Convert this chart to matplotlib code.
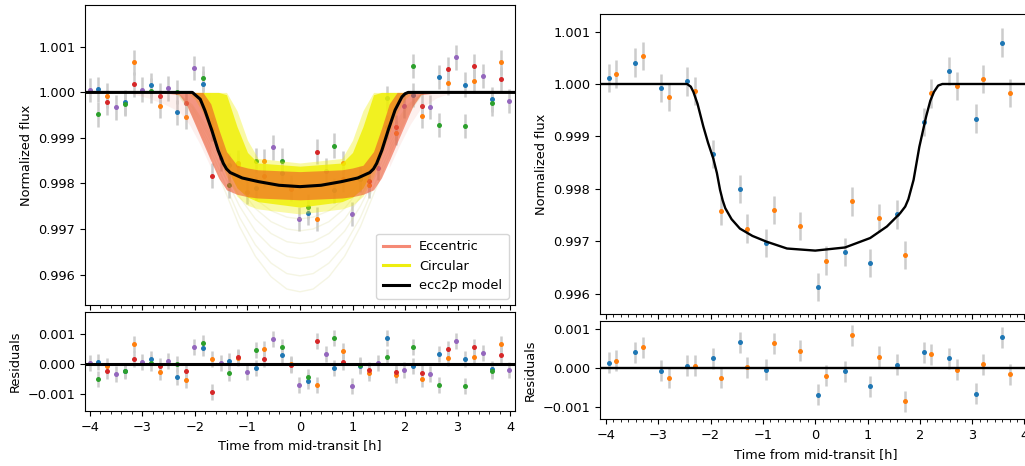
import numpy as np
import matplotlib
matplotlib.use('Agg')
import matplotlib.pyplot as plt
from matplotlib.ticker import MultipleLocator, FuncFormatter
from matplotlib.lines import Line2D

plt.rcParams['font.family'] = ['DejaVu Sans']
plt.rcParams['font.size'] = 9.3

# ---------------- LEFT PANEL DATA (5 transits) ----------------
t_pu = [-4.00, -3.50, -3.00, -2.51, -2.01, -1.51, -1.01, -0.51, -0.01, 0.49, 0.99, 1.49, 1.99, 2.48, 2.98, 3.49, 3.99]
f_pu = [1.00005, 0.99967, 1.00006, 1.00009, 1.00054, 0.99855, 0.99782, 0.99879, 0.99722, 0.99828, 0.99733, 0.99835, 0.99970, 0.99968, 1.00077, 1.00036, 0.99981]
r_pu = [0.00004, -0.00033, 0.00006, 0.00009, 0.00057, 0.00002, -0.00026, 0.00085, -0.00070, 0.00034, -0.00076, 0.00003, -0.00021, -0.00033, 0.00077, 0.00036, -0.00019]

t_bg = [-3.84, -3.34, -2.84, -2.34, -1.85, -1.35, -0.84, -0.34, 0.15, 0.65, 1.15, 1.65, 2.15, 2.65, 3.15, 3.65]
f_bl = [1.00007, 0.99978, 1.00016, 0.99956, 1.00019, 0.99840, 0.99790, 0.99824, 0.99735, 0.99785, 0.99809, 0.99987, 0.99994, 1.00034, 1.00017, 0.99985]
r_bl = [0.00007, -0.00022, 0.00016, -0.00044, 0.00054, 0.00011, -0.00014, 0.00031, -0.00057, -0.00014, -0.00006, 0.00089, -0.00006, 0.00035, 0.00017, -0.00016]
f_gr = [0.99952, 0.99975, 1.00004, 1.00001, 1.00031, 0.99796, 0.99850, 0.99850, 0.99749, 0.99883, 0.99812, 0.99924, 1.00058, 0.99928, 0.99926, 0.99976]
r_gr = [-0.00050, -0.00025, 0.00004, 0.00000, 0.00071, -0.00032, 0.00047, 0.00058, -0.00043, 0.00087, -0.00003, 0.00025, 0.00059, -0.00072, -0.00075, -0.00023]

t_or = [-3.68, -3.17, -2.67, -2.18, -1.68, -1.18, -0.68, -0.18, 0.32, 0.82, 1.32, 1.82, 2.32, 2.82, 3.32, 3.82]
f_or = [0.99993, 1.00066, 0.99971, 0.99947, 0.99920, 0.99840, 0.99849, 0.99792, 0.99722, 0.99845, 0.99796, 0.99911, 0.99949, 1.00021, 1.00025, 1.00066]
r_or = [-0.00008, 0.00068, -0.00028, -0.00053, 0.00016, 0.00019, 0.00050, 0.00000, -0.00072, 0.00044, -0.00030, -0.00038, -0.00051, 0.00021, 0.00025, 0.00068]
f_rd = [0.99978, 1.00018, 0.99993, 0.99976, 0.99817, 0.99846, 0.99816, 0.99788, 0.99870, 0.99809, 0.99805, 0.99923, 0.99971, 1.00051, 1.00058, 1.00029]
r_rd = [-0.00024, 0.00017, -0.00007, -0.00023, -0.00096, 0.00025, 0.00017, -0.00004, 0.00079, 0.00008, -0.00021, -0.00028, -0.00030, 0.00051, 0.00059, 0.00031]

err_left = 0.00027

# ecc2p model (black)
m_t = [-4.2, -2.05, -2.00, -1.90, -1.81, -1.68, -1.56, -1.46, -1.40, -1.33, -1.10, -0.79, -0.40, 0.00,
       0.40, 0.79, 1.10, 1.33, 1.40, 1.46, 1.56, 1.68, 1.81, 1.94, 2.00, 2.06, 4.2]
m_f = [1.0, 1.0, 0.99995, 0.99985, 0.99960, 0.99917, 0.99873, 0.99844, 0.99832, 0.99824, 0.99812, 0.99804, 0.99796, 0.99793,
       0.99796, 0.99804, 0.99812, 0.99824, 0.99832, 0.99844, 0.99873, 0.99917, 0.99961, 0.99990, 0.99997, 1.0, 1.0]

# Posterior model envelopes
band_t = [-2.70, -2.30, -2.15, -2.00, -1.85, -1.70, -1.55, -1.40, -1.20, -1.00, -0.80, 0.00,
          0.80, 1.00, 1.20, 1.40, 1.55, 1.70, 1.85, 2.00, 2.15, 2.30, 2.70]
ecc_hi = [1.0, 1.0, 1.0, 1.0, 1.0, 0.99975, 0.99920, 0.99870, 0.99840, 0.99834, 0.99830, 0.99826,
          0.99830, 0.99834, 0.99840, 0.99870, 0.99920, 0.99975, 1.0, 1.0, 1.0, 1.0, 1.0]
ecc_lo = [1.0, 0.99995, 0.99970, 0.99930, 0.99890, 0.99850, 0.99812, 0.99786, 0.99776, 0.99771, 0.99768, 0.99764,
          0.99768, 0.99771, 0.99776, 0.99786, 0.99812, 0.99850, 0.99890, 0.99930, 0.99970, 0.99995, 1.0]
cir_hi = [1.0, 1.0, 1.0, 1.0, 1.0, 1.0, 1.0, 0.99995, 0.99925, 0.99868, 0.99845, 0.99838,
          0.99845, 0.99868, 0.99925, 0.99995, 1.0, 1.0, 1.0, 1.0, 1.0, 1.0, 1.0]
cir_lo = [1.0, 1.0, 1.0, 1.0, 0.99975, 0.99930, 0.99880, 0.99835, 0.99790, 0.99770, 0.99760, 0.99748,
          0.99760, 0.99770, 0.99790, 0.99835, 0.99880, 0.99930, 0.99975, 1.0, 1.0, 1.0, 1.0]
# sparse outer circular curves
cir_out_hi = [1.0, 1.0, 1.0, 1.0, 1.0, 1.0, 1.0, 1.0, 0.99960, 0.99895, 0.99855, 0.99845,
              0.99855, 0.99895, 0.99960, 1.0, 1.0, 1.0, 1.0, 1.0, 1.0, 1.0, 1.0]
cir_out_lo = [1.0, 1.0, 1.0, 0.99985, 0.99955, 0.99910, 0.99860, 0.99815, 0.99772, 0.99752, 0.99744, 0.99733,
              0.99744, 0.99752, 0.99772, 0.99815, 0.99860, 0.99910, 0.99955, 0.99985, 1.0, 1.0, 1.0]
# faint outer eccentric curves (early ingress / late egress)
ecc_in_t = [-3.30, -2.90, -2.60, -2.30, -2.10, -1.90, -1.70]
ecc_in_f = [1.0, 0.99988, 0.99975, 0.99958, 0.99928, 0.99885, 0.99835]
ecc_eg_t = [1.70, 1.90, 2.10, 2.30, 2.60, 2.90]
ecc_eg_f = [0.99835, 0.99885, 0.99930, 0.99965, 0.99988, 1.0]

# faint deep circular curves (half profile, mirrored)
arc_t = [-2.35, -2.05, -1.75, -1.45, -1.15, -0.85, -0.55, -0.25, 0.0]
arc_rows = [
    [1.0, 0.99950, 0.99875, 0.99790, 0.99705, 0.99640, 0.99595, 0.99568, 0.99562],
    [1.0, 0.99955, 0.99885, 0.99805, 0.99725, 0.99665, 0.99625, 0.99602, 0.99597],
    [1.0, 0.99960, 0.99895, 0.99820, 0.99750, 0.99695, 0.99660, 0.99640, 0.99635],
    [1.0, 0.99965, 0.99905, 0.99835, 0.99770, 0.99722, 0.99690, 0.99672, 0.99668],
    [1.0, 0.99968, 0.99912, 0.99848, 0.99790, 0.99745, 0.99716, 0.99700, 0.99696],
    [1.0, 0.99972, 0.99920, 0.99860, 0.99805, 0.99766, 0.99740, 0.99726, 0.99722],
]

# ---------------- RIGHT PANEL DATA (2 transits) ----------------
tb_R = [-3.95, -3.45, -2.95, -2.45, -1.95, -1.44, -0.94, 0.06, 0.56, 1.05, 1.56, 2.07, 2.56, 3.07, 3.57]
fb_R = [1.00012, 1.00041, 0.99993, 1.00005, 0.99867, 0.99800, 0.99697, 0.99613, 0.99680, 0.99659, 0.99751, 0.99928, 1.00025, 0.99934, 1.00079]
rb_R = [0.00014, 0.00041, -0.00007, 0.00006, 0.00026, 0.00067, -0.00004, -0.00068, -0.00008, -0.00046, 0.00009, 0.00041, 0.00026, -0.00065, 0.00079]
to_R = [-3.80, -3.30, -2.80, -2.30, -1.80, -1.30, -0.79, -0.30, 0.20, 0.71, 1.21, 1.72, 2.21, 2.71, 3.21, 3.72]
fo_R = [1.00019, 1.00053, 0.99975, 0.99987, 0.99758, 0.99724, 0.99760, 0.99729, 0.99663, 0.99776, 0.99744, 0.99674, 0.99982, 0.99996, 1.00009, 0.99983]
ro_R = [0.00019, 0.00054, -0.00024, 0.00006, -0.00024, 0.00003, 0.00064, 0.00045, -0.00019, 0.00085, 0.00030, -0.00085, 0.00036, -0.00004, 0.00010, -0.00016]
err_right = 0.00027

mR_t = [-4.3, -2.45, -2.38, -2.33, -2.25, -2.14, -2.05, -1.95, -1.88, -1.82, -1.77, -1.72, -1.60, -1.44, -1.20, -0.93,
        -0.54, 0.00, 0.57, 1.05, 1.37, 1.62, 1.72, 1.78, 1.88, 1.99, 2.12, 2.20, 2.27, 2.35, 2.43, 4.3]
mR_f = [1.0, 1.0, 0.99995, 0.99985, 0.99962, 0.99919, 0.99888, 0.99858, 0.99830, 0.99798, 0.99778, 0.99763, 0.99742, 0.99724, 0.99710, 0.99699,
        0.99686, 0.99682, 0.99688, 0.99706, 0.99728, 0.99753, 0.99766, 0.99780, 0.99817, 0.99880, 0.99938, 0.99968, 0.99985, 0.99997, 1.0, 1.0]

# ---------------- FIGURE ----------------
fig = plt.figure(figsize=(10.25, 4.66), dpi=100)
axL = fig.add_axes([0.08293, 0.34549, 0.41951, 0.64378])
axLr = fig.add_axes([0.08293, 0.11803, 0.41951, 0.21245])
axR = fig.add_axes([0.58537, 0.32618, 0.42049, 0.64378])
axRr = fig.add_axes([0.58537, 0.10021, 0.42049, 0.21159])

ecol = '#cccccc'
ms = 3.6

def pts(ax, t, v, c, err):
    ax.errorbar(t, v, yerr=err, fmt='none', ecolor=ecol, elinewidth=1.8, zorder=1)
    ax.plot(t, v, 'o', ms=ms, color=c, mec='none', zorder=2)

left_sets = [
    (t_bg, f_bl, r_bl, 'C0'),
    (t_or, f_or, r_or, 'C1'),
    (t_bg, f_gr, r_gr, 'C2'),
    (t_or, f_rd, r_rd, 'C3'),
    (t_pu, f_pu, r_pu, 'C4'),
]
for t, f, r, c in left_sets:
    pts(axL, t, f, c, err_left)
    pts(axLr, t, r, c, err_left)

# model posterior curves
ecc_c = '#ee4a28'
cir_c = '#f0f000'
for row in arc_rows:
    full_t = arc_t + [-x for x in arc_t[::-1][1:]]
    full_f = row + row[::-1][1:]
    axL.plot(full_t, full_f, color='#d8d890', alpha=0.25, lw=1.0, zorder=3)
axL.fill_between(ecc_in_t, ecc_in_f, 1.0, color='#f09080', alpha=0.13, lw=0, zorder=3)
axL.fill_between(ecc_eg_t, ecc_eg_f, 1.0, color='#f09080', alpha=0.13, lw=0, zorder=3)
axL.fill_between(band_t, cir_out_lo, cir_out_hi, color=cir_c, alpha=0.35, lw=0, zorder=3)
axL.fill_between(band_t, cir_lo, cir_hi, color=cir_c, alpha=0.8, lw=0, zorder=3)
axL.fill_between(band_t, ecc_lo, ecc_hi, color=ecc_c, alpha=0.55, lw=0, zorder=3)
axL.plot(m_t, m_f, color='k', lw=2.2, zorder=5)
axLr.axhline(0, color='k', lw=2.2, zorder=5)

handles = [Line2D([], [], color='#f58a76', lw=2.2),
           Line2D([], [], color='#eeee10', lw=2.2),
           Line2D([], [], color='k', lw=2.2)]
axL.legend(handles, ['Eccentric', 'Circular', 'ecc2p model'], loc='lower right',
           handlelength=2.0, borderpad=0.5, labelspacing=0.5)

pts(axR, tb_R, fb_R, 'C0', err_right)
pts(axR, to_R, fo_R, 'C1', err_right)
pts(axRr, tb_R, rb_R, 'C0', err_right)
pts(axRr, to_R, ro_R, 'C1', err_right)
axR.plot(mR_t, mR_f, color='k', lw=1.7, zorder=5)
axRr.axhline(0, color='k', lw=1.7, zorder=5)

def fmt3(x, pos):
    s = '%.3f' % x
    return s.replace('-', '\u2212')

for ax in (axL, axLr):
    ax.set_xlim(-4.095, 4.095)
for ax in (axR, axRr):
    ax.set_xlim(-4.115, 4.125)
for ax in (axL, axLr, axR, axRr):
    ax.xaxis.set_major_locator(MultipleLocator(1))
    ax.yaxis.set_major_formatter(FuncFormatter(fmt3))
    ax.yaxis.set_major_locator(MultipleLocator(0.001))
axL.xaxis.set_minor_locator(MultipleLocator(0.2))
axLr.xaxis.set_minor_locator(MultipleLocator(0.2))
axR.xaxis.set_minor_locator(MultipleLocator(1/7))
axRr.xaxis.set_minor_locator(MultipleLocator(1/7))

axL.set_ylim(0.99533, 1.00192)
axLr.set_ylim(-0.00159, 0.00176)
axR.set_ylim(0.99561, 1.001336)
axRr.set_ylim(-0.00131, 0.00122)

for ax in (axL, axR):
    ax.tick_params(axis='x', labelbottom=False)
    ax.set_ylabel('Normalized flux')
for ax in (axLr, axRr):
    ax.set_ylabel('Residuals')
    ax.set_xlabel('Time from mid-transit [h]')

fig.savefig('out.png', dpi=100)
